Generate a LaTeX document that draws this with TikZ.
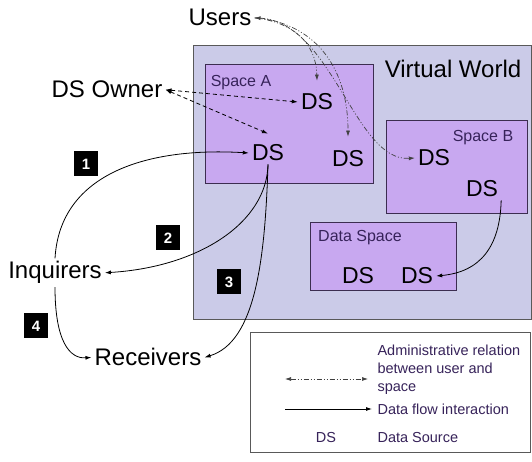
\documentclass[tikz,border=0pt]{standalone}
\usepackage{fontspec}
\setmainfont{Liberation Sans}
\usepackage{tikz}
\usetikzlibrary{arrows.meta}

\definecolor{worldfill}{RGB}{203,203,232}
\definecolor{spacefill}{RGB}{200,168,240}
\definecolor{spaceline}{RGB}{60,45,80}
\definecolor{legtext}{RGB}{55,35,90}

\begin{document}
\begin{tikzpicture}[x=1pt, y=1pt,
    actor/.style={anchor=base, inner sep=3pt, font=\fontsize{24}{28}\selectfont},
    ds/.style={inner sep=3pt, font=\fontsize{23}{26}\selectfont},
    spacename/.style={anchor=base, text=legtext, font=\fontsize{16}{18}\selectfont},
    numbox/.style={fill=black, text=white, minimum width=24pt, minimum height=25pt,
        inner sep=0pt, font=\bfseries\fontsize{15}{15}\selectfont},
    flow/.style={line width=0.8pt, -{Latex[length=6pt,width=4pt]}},
    owner/.style={line width=0.8pt, dash pattern=on 4pt off 3pt,
        {Latex[length=6pt,width=4pt]}-{Latex[length=6pt,width=4pt]}},
    admin/.style={line width=0.7pt, draw=black!75,
        dash pattern=on 5pt off 2pt on 1pt off 2pt on 1pt off 2pt,
        -{Latex[length=6pt,width=4pt]}},
    legend/.style={anchor=west, text=legtext, font=\fontsize{14.5}{18}\selectfont}]
    \useasboundingbox (0,0) rectangle (532,462);

    % virtual world
    \draw[fill=worldfill, draw=black!65, line width=0.8pt] (193,417) rectangle (531,143);
    \node[actor] (world) at (453,384) {Virtual World};

    % Space A
    \draw[fill=spacefill, draw=spaceline, line width=0.8pt] (205,398) rectangle (373,279);
    \node[spacename] (namea) at (241,375) {Space A};
    \node[ds] (dsa1) at (317,360) {DS};
    \node[ds] (dsa2) at (268,309) {DS};
    \node[ds] (dsa3) at (348,303) {DS};

    % Space B
    \draw[fill=spacefill, draw=spaceline, line width=0.8pt] (386,342) rectangle (527,249);
    \node[spacename] (nameb) at (483,320) {Space B};
    \node[ds] (dsb1) at (434,304) {DS};
    \node[ds] (dsb2) at (482,273) {DS};

    % Data Space
    \draw[fill=spacefill, draw=spaceline, line width=0.8pt] (310,240) rectangle (456,172);
    \node[spacename] (named) at (360,220) {Data Space};
    \node[ds] (dsd1) at (358,186) {DS};
    \node[ds] (dsd2) at (417,186) {DS};

    % actors
    \node[actor] (users) at (220,436) {Users};
    \node[actor] (owner) at (107,364) {DS Owner};
    \node[actor] (inq) at (55,183) {Inquirers};
    \node[actor] (recv) at (148,96) {Receivers};

    % steps
    \node[numbox] (n1) at (86,298) {1};
    \node[numbox] (n2) at (168,224) {2};
    \node[numbox] (n3) at (229,180) {3};
    \node[numbox] (n4) at (36,136) {4};

    % DS owner
    \draw[owner] (owner.east) -- (dsa1.west);
    \draw[owner] (owner.east) -- ([yshift=8pt]dsa2.north);

    % users
    \draw[admin] (users.east) .. controls (292,440) and (316,420) .. ([yshift=10pt]dsa1.north);
    \draw[admin] (users.east) .. controls (310,440) and (348,400) .. ([yshift=11pt]dsa3.north);
    \draw[admin, {Latex[length=6pt,width=4pt]}-{Latex[length=6pt,width=4pt]}]
        (users.east) .. controls (332,440) and (355,300) .. (dsb1.west);

    % data flow
    \draw[flow] (inq.north) .. controls (60,290) and (150,315) .. (dsa2.west);
    \draw[flow] (dsa2.south) .. controls (267,240) and (200,195) .. (inq.east);
    \draw[flow] (dsa2.south) .. controls (265,200) and (255,120) .. (recv.east);
    \draw[flow] (inq.south) .. controls (55,120) and (70,103) .. (recv.west);
    \draw[flow] (dsb2.south east) .. controls (500,215) and (480,190) .. (dsd2.east);

    % legend
    \draw[draw=black!65, line width=0.7pt, fill=white] (250,130) rectangle (530,10);
    \coordinate (la) at (285,83);
    \coordinate (lb) at (368,83);
    \coordinate (lc) at (285,53);
    \coordinate (ld) at (372,53);
    \draw[admin, {Latex[length=6pt,width=4pt]}-{Latex[length=6pt,width=4pt]}] (la) -- (lb);
    \draw[flow] (lc) -- (ld);
    \node[legend, align=left] (legadmin) at (374,92) {Administrative relation\\between user and\\space};
    \node[legend] (legflow) at (374,53) {Data flow interaction};
    \node[legend] (legsrc) at (374,24) {Data Source};
    \node[text=legtext, font=\fontsize{14.5}{18}\selectfont] (legds) at (326,24) {DS};
\end{tikzpicture}
\end{document}
